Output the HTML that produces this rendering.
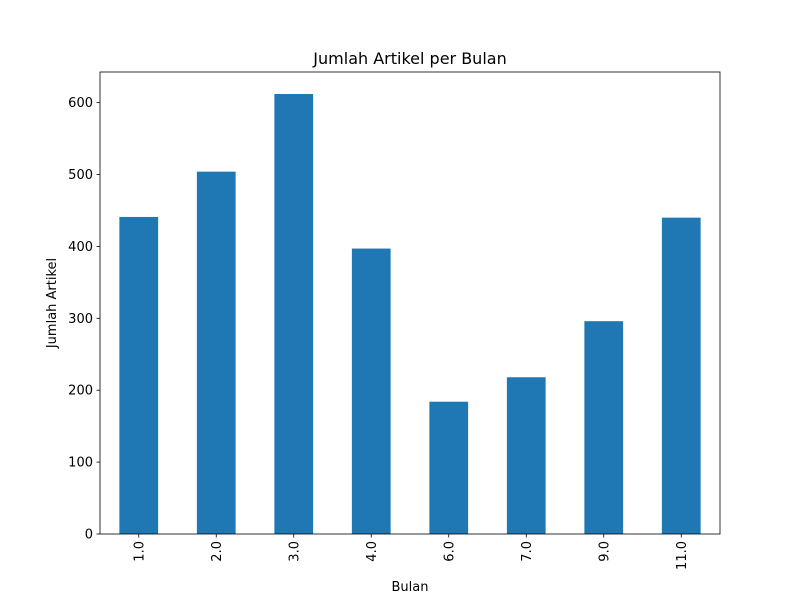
<!DOCTYPE html>
<html><head><meta charset="utf-8"><style>body{margin:0;background:#fff}svg{display:block;font-family:"DejaVu Sans","Liberation Sans",sans-serif}</style></head>
<body>
<svg id="chart" width="800" height="600">
<rect width="800" height="600" fill="#fff"/>
<text x="410" y="64" text-anchor="middle" font-size="16">Jumlah Artikel per Bulan</text>
<g id="bars"></g>
<g id="yticks"></g>
<g id="xticks"></g>
<rect x="100" y="72" width="620" height="462" fill="none" stroke="#000" stroke-width="0.8"/>
<text x="410" y="591" text-anchor="middle" font-size="13">Bulan</text>
<text transform="translate(56,303) rotate(-90)" text-anchor="middle" font-size="13">Jumlah Artikel</text>
</svg>
<script>
const categories = ["1.0","2.0","3.0","4.0","6.0","7.0","9.0","11.0"];
const values = [441, 504, 612, 397, 184, 218, 296, 440];
const yTicks = [0,100,200,300,400,500,600];
const L=100,R=720,T=72,B=534;
const yMax = Math.max(...values)*1.05;
const y = v => B - v/yMax*(B-T);
const step = (R-L)/categories.length;
const x = i => L + step*(i+0.5);
const NS="http://www.w3.org/2000/svg";
function mk(tag,attrs,parent){const e=document.createElementNS(NS,tag);for(const k in attrs)e.setAttribute(k,attrs[k]);parent.appendChild(e);return e;}
const bars=document.getElementById('bars'),yt=document.getElementById('yticks'),xt=document.getElementById('xticks');
values.forEach((v,i)=>{
  const r=mk('rect',{x:x(i)-step/4,y:y(v),width:step/2,height:B-y(v),fill:'#1f77b4'},bars);
  
  
});
yTicks.forEach(t=>{
  const l=mk('line',{x1:L-3.5,x2:L,y1:y(t),y2:y(t),stroke:'#000','stroke-width':0.8},yt);
  
  
  const tx=mk('text',{x:L-7,y:y(t)+4.5,'text-anchor':'end','font-size':13},yt);
  tx.textContent=t;
  
  
});
categories.forEach((c,i)=>{
  const l=mk('line',{x1:x(i),x2:x(i),y1:B,y2:B+3.5,stroke:'#000','stroke-width':0.8},xt);
  
  
  const tx=mk('text',{transform:`translate(${x(i)+4.5},${B+7}) rotate(-90)`,'text-anchor':'end','font-size':13},xt);
  tx.textContent=c;
  
  
});
</script>
</body></html>
